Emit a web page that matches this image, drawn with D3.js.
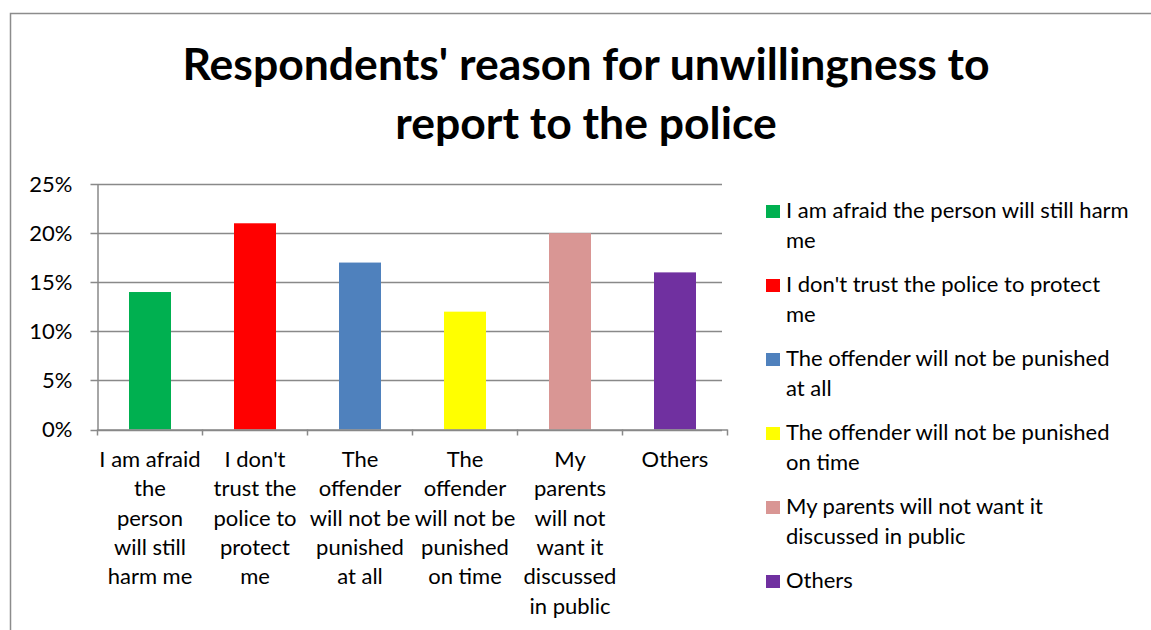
<!DOCTYPE html>
<html>
<head>
<meta charset="utf-8">
<script src="https://cdn.jsdelivr.net/npm/d3@7"></script>
<style>
  html, body { margin: 0; padding: 0; background: #fff; }
  svg { display: block; font-family: Lato, "Open Sans", sans-serif; }
</style>
</head>
<body>
<svg id="chart" width="1151" height="630"></svg>
<script>
// Survey answers and their shares
const categories = [
  "I am afraid the person will still harm me",
  "I don't trust the police to protect me",
  "The offender will not be punished at all",
  "The offender will not be punished on time",
  "My parents will not want it discussed in public",
  "Others"
];
const values = [0.14, 0.21, 0.17, 0.12, 0.20, 0.16];
const colors = ["#00B050", "#FF0000", "#4F81BD", "#FFFF00", "#D99694", "#7030A0"];
const yTicks = [0, 0.05, 0.10, 0.15, 0.20, 0.25];
// Wrapped lines for the category axis and the legend
const axisLabelLines = [
  ["I am afraid", "the", "person", "will still", "harm me"],
  ["I don't", "trust the", "police to", "protect", "me"],
  ["The", "offender", "will not be", "punished", "at all"],
  ["The", "offender", "will not be", "punished", "on time"],
  ["My", "parents", "will not", "want it", "discussed", "in public"],
  ["Others"]
];
const legendLines = [
  ["I am afraid the person will still harm", "me"],
  ["I don't trust the police to protect", "me"],
  ["The offender will not be punished", "at all"],
  ["The offender will not be punished", "on time"],
  ["My parents will not want it", "discussed in public"],
  ["Others"]
];
const titleLines = ["Respondents' reason for unwillingness to", "report to the police"];

const svg = d3.select("#chart");
const gridColor = "#898989";
const bodySize = 22;

// chart frame
svg.append("rect")
  .attr("x", 10.5).attr("y", 13.5)
  .attr("width", 1300).attr("height", 800)
  .attr("fill", "#fff").attr("stroke", "#8c8c8c").attr("stroke-width", 1.5);

// title
svg.append("text")
  .attr("text-anchor", "middle")
  .attr("font-weight", "bold")
  .attr("font-size", 44.5)
  .attr("fill", "#000")
  .selectAll("tspan").data(titleLines).join("tspan")
  .attr("x", 586)
  .attr("y", (d, i) => 80 + i * 59)
  .text(d => d);

const plot = { left: 97.5, right: 727.5, top: 184, bottom: 429.5 };

const x = d3.scaleBand()
  .domain(categories)
  .range([plot.left, plot.right])
  .paddingInner(0.6)
  .paddingOuter(0.3);

const y = d3.scaleLinear()
  .domain([0, 0.25])
  .range([plot.bottom, plot.top]);

// horizontal gridlines
svg.append("g")
  .selectAll("line").data(yTicks).join("line")
  .attr("x1", plot.left - 7).attr("x2", 722)
  .attr("y1", d => Math.round(y(d)) + 0.5).attr("y2", d => Math.round(y(d)) + 0.5)
  .attr("stroke", gridColor).attr("stroke-width", 1.5);

// bars
svg.append("g")
  .selectAll("rect").data(values).join("rect")
  .attr("x", (d, i) => x(categories[i]))
  .attr("width", x.bandwidth())
  .attr("y", d => y(d))
  .attr("height", d => y(0) - y(d))
  .attr("fill", (d, i) => colors[i]);

// y axis
const yAxis = d3.axisLeft(y)
  .tickValues(yTicks)
  .tickFormat(d3.format(".0%"))
  .tickSize(0)
  .tickPadding(25);
const gy = svg.append("g").attr("transform", `translate(${plot.left},0)`).call(yAxis);
gy.select(".domain").attr("stroke", gridColor).attr("stroke-width", 1.5);
gy.selectAll("text").attr("font-size", bodySize).attr("fill", "#000")
  .attr("font-family", "Lato, 'Open Sans', sans-serif");

// x axis baseline with ticks at category boundaries
const boundaries = d3.range(categories.length + 1).map(i => plot.left + i * (plot.right - plot.left) / categories.length);
svg.append("line")
  .attr("x1", plot.left).attr("x2", plot.right)
  .attr("y1", plot.bottom + 0.5).attr("y2", plot.bottom + 0.5)
  .attr("stroke", gridColor).attr("stroke-width", 1.5);
svg.append("g").selectAll("line").data(boundaries).join("line")
  .attr("x1", d => d).attr("x2", d => d)
  .attr("y1", plot.bottom).attr("y2", plot.bottom + 6)
  .attr("stroke", gridColor).attr("stroke-width", 1.5);

// category labels
svg.append("g")
  .selectAll("text").data(axisLabelLines).join("text")
  .attr("text-anchor", "middle")
  .attr("font-size", bodySize)
  .attr("fill", "#000")
  .each(function (lines, i) {
    const cx = x(categories[i]) + x.bandwidth() / 2;
    d3.select(this).selectAll("tspan").data(lines).join("tspan")
      .attr("x", cx)
      .attr("y", (d, j) => 467 + j * 29.3)
      .text(d => d);
  });

// legend
const legend = svg.append("g");
const entryTop = [211, 285, 359, 433, 507, 581];
categories.forEach((c, i) => {
  legend.append("rect")
    .attr("x", 766).attr("y", entryTop[i] - 6)
    .attr("width", 14).attr("height", 13)
    .attr("fill", colors[i]);
  legend.append("text")
    .attr("font-size", bodySize).attr("fill", "#000")
    .selectAll("tspan").data(legendLines[i]).join("tspan")
    .attr("x", 786)
    .attr("y", (d, j) => entryTop[i] + 7 + j * 30)
    .text(d => d);
});
</script>
</body>
</html>
